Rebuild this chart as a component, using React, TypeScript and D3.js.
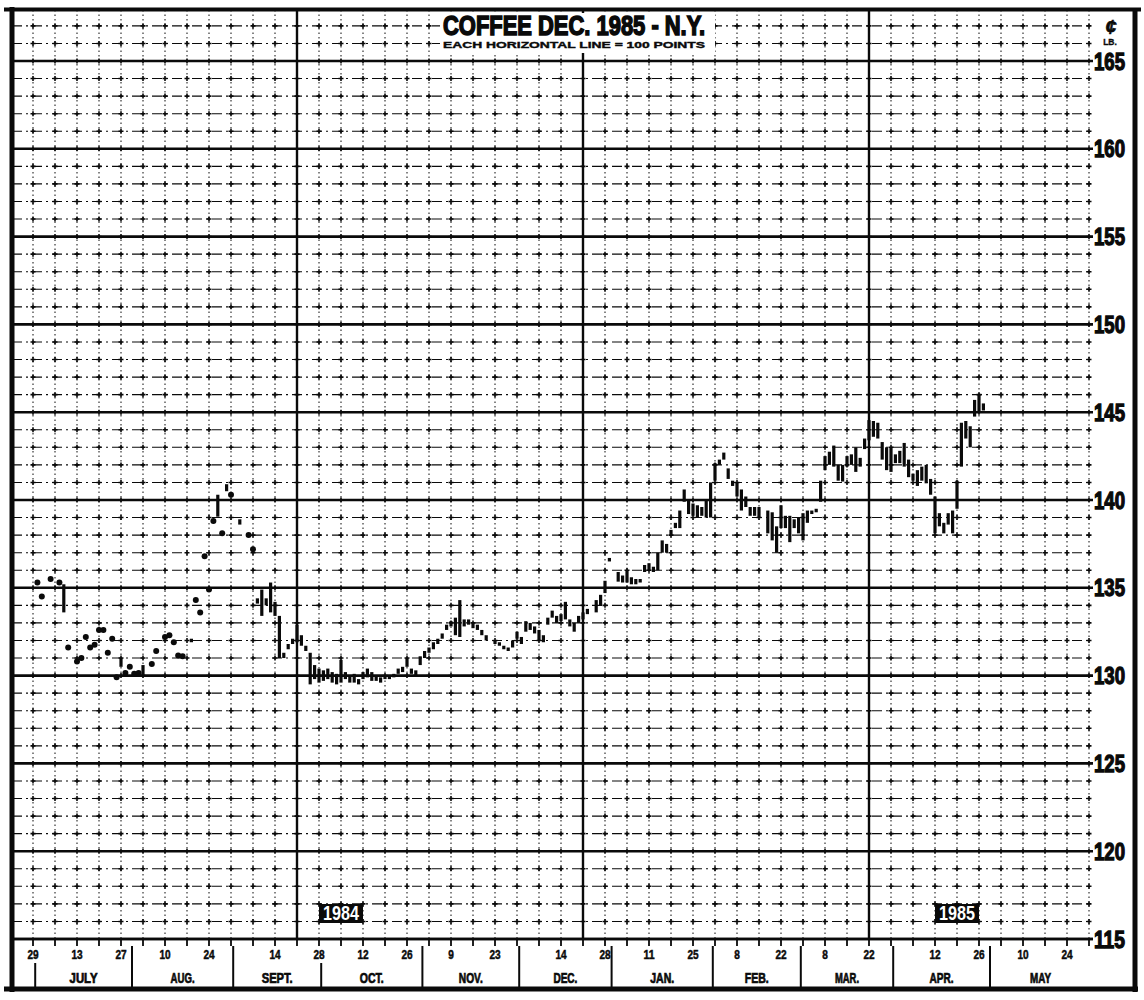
import { useEffect } from 'react';
import * as d3 from 'd3';

// thin early trading: single prints (date, price in cents/lb)
const sparseSessions: [string, number][] = [
  ['1984-07-02', 135.3], ['1984-07-03', 134.5], ['1984-07-05', 135.5], ['1984-07-09', 135.3],
  ['1984-07-11', 131.6], ['1984-07-13', 130.8], ['1984-07-16', 131.0], ['1984-07-17', 132.2],
  ['1984-07-18', 131.6], ['1984-07-19', 131.75], ['1984-07-20', 132.6], ['1984-07-23', 132.6],
  ['1984-07-24', 131.3], ['1984-07-25', 132.1], ['1984-07-26', 129.9], ['1984-07-30', 130.15],
  ['1984-07-31', 130.5], ['1984-08-01', 130.1], ['1984-08-02', 130.15], ['1984-08-07', 130.66],
  ['1984-08-08', 131.4], ['1984-08-10', 132.2], ['1984-08-13', 132.3], ['1984-08-14', 131.9],
  ['1984-08-15', 131.15], ['1984-08-16', 131.1], ['1984-08-21', 134.3], ['1984-08-22', 133.6],
  ['1984-08-23', 136.8], ['1984-08-24', 134.9], ['1984-08-27', 138.8], ['1984-08-29', 138.1],
  ['1984-08-31', 140.3], ['1984-09-06', 138.0], ['1984-09-07', 137.2],
];

// daily high / low
const dailyRanges: [string, number, number][] = [
  ['1984-07-10', 135.2, 133.6], ['1984-07-27', 131.0, 130.5], ['1984-08-03', 130.6, 130.0],
  ['1984-08-20', 132.1, 131.9], ['1984-08-28', 140.3, 139.05], ['1984-08-30', 140.9, 140.5],
  ['1984-09-04', 138.9, 138.6], ['1984-09-10', 134.4, 134.1], ['1984-09-11', 134.9, 133.4],
  ['1984-09-12', 134.4, 134.0], ['1984-09-13', 135.3, 133.6], ['1984-09-14', 134.2, 133.4],
  ['1984-09-17', 133.4, 131.0], ['1984-09-18', 131.3, 131.0], ['1984-09-19', 131.8, 131.5],
  ['1984-09-20', 132.1, 131.8], ['1984-09-21', 132.9, 131.9], ['1984-09-24', 132.3, 131.7],
  ['1984-09-25', 131.7, 131.4], ['1984-09-26', 131.3, 129.5], ['1984-09-27', 130.6, 129.8],
  ['1984-09-28', 130.4, 129.6], ['1984-10-01', 130.3, 129.7], ['1984-10-02', 130.4, 129.8],
  ['1984-10-03', 130.2, 129.6], ['1984-10-04', 130.1, 129.5], ['1984-10-05', 130.9, 129.6],
  ['1984-10-08', 130.2, 129.8], ['1984-10-09', 130.0, 129.6], ['1984-10-10', 130.1, 129.6],
  ['1984-10-11', 129.8, 129.5], ['1984-10-12', 130.2, 129.8], ['1984-10-15', 130.4, 129.9],
  ['1984-10-16', 130.2, 129.7], ['1984-10-17', 130.0, 129.7], ['1984-10-18', 129.9, 129.6],
  ['1984-10-19', 130.0, 129.8], ['1984-10-22', 130.0, 129.8], ['1984-10-23', 130.1, 129.9],
  ['1984-10-24', 130.4, 130.1], ['1984-10-25', 130.5, 130.2], ['1984-10-26', 131.0, 130.5],
  ['1984-10-29', 130.4, 130.1], ['1984-10-30', 130.3, 130.0], ['1984-10-31', 131.1, 130.6],
  ['1984-11-01', 131.4, 131.0], ['1984-11-02', 131.6, 131.3], ['1984-11-05', 131.9, 131.5],
  ['1984-11-06', 132.1, 131.8], ['1984-11-07', 132.4, 132.1], ['1984-11-08', 132.9, 132.6],
  ['1984-11-09', 133.1, 132.8], ['1984-11-12', 133.3, 132.3], ['1984-11-13', 134.3, 132.2],
  ['1984-11-14', 133.2, 132.8], ['1984-11-15', 133.2, 132.9], ['1984-11-16', 133.0, 132.7],
  ['1984-11-19', 132.9, 132.6], ['1984-11-20', 132.6, 132.3], ['1984-11-21', 132.3, 132.0],
  ['1984-11-23', 132.0, 131.8], ['1984-11-26', 131.9, 131.7], ['1984-11-27', 131.7, 131.5],
  ['1984-11-28', 131.6, 131.4], ['1984-11-29', 132.0, 131.6], ['1984-11-30', 132.5, 132.1],
  ['1984-12-03', 132.2, 131.8], ['1984-12-04', 133.1, 132.5], ['1984-12-05', 133.0, 132.6],
  ['1984-12-06', 132.8, 132.4], ['1984-12-07', 132.6, 132.0], ['1984-12-10', 132.3, 131.9],
  ['1984-12-11', 133.3, 132.9], ['1984-12-12', 133.7, 133.3], ['1984-12-13', 133.4, 133.0],
  ['1984-12-14', 133.5, 133.1], ['1984-12-17', 134.2, 133.2], ['1984-12-18', 133.2, 132.8],
  ['1984-12-19', 133.0, 132.5], ['1984-12-20', 133.4, 133.0], ['1984-12-21', 133.6, 133.2],
  ['1984-12-24', 133.8, 133.5], ['1984-12-26', 134.3, 133.6], ['1984-12-27', 134.6, 134.0],
  ['1984-12-28', 135.4, 134.7], ['1984-12-31', 136.7, 136.5], ['1985-01-02', 135.9, 135.35],
  ['1985-01-03', 135.7, 135.3], ['1985-01-04', 136.0, 135.3], ['1985-01-07', 135.6, 135.2],
  ['1985-01-08', 135.5, 135.2], ['1985-01-09', 135.5, 135.3], ['1985-01-10', 136.3, 135.9],
  ['1985-01-11', 136.4, 136.0], ['1985-01-14', 136.2, 135.9], ['1985-01-15', 137.0, 136.0],
  ['1985-01-16', 137.7, 137.0], ['1985-01-17', 137.5, 137.0], ['1985-01-18', 138.3, 138.0],
  ['1985-01-21', 138.7, 138.4], ['1985-01-22', 139.4, 138.4], ['1985-01-23', 140.6, 139.9],
  ['1985-01-24', 140.0, 139.2], ['1985-01-25', 139.8, 139.1], ['1985-01-28', 139.7, 139.0],
  ['1985-01-29', 139.6, 139.1], ['1985-01-30', 140.0, 139.0], ['1985-01-31', 141.0, 139.0],
  ['1985-02-01', 142.1, 141.1], ['1985-02-04', 142.3, 142.0], ['1985-02-05', 142.7, 142.3],
  ['1985-02-06', 141.8, 141.2], ['1985-02-07', 141.1, 140.8], ['1985-02-08', 141.0, 140.2],
  ['1985-02-11', 140.6, 139.4], ['1985-02-12', 140.2, 139.6], ['1985-02-13', 139.6, 139.1],
  ['1985-02-14', 139.6, 139.1], ['1985-02-15', 139.6, 139.0], ['1985-02-19', 139.4, 138.1],
  ['1985-02-20', 139.3, 137.7], ['1985-02-21', 138.5, 137.0], ['1985-02-22', 139.7, 138.4],
  ['1985-02-25', 139.1, 138.4], ['1985-02-26', 139.1, 137.6], ['1985-02-27', 138.9, 138.4],
  ['1985-02-28', 139.0, 138.1], ['1985-03-01', 139.25, 137.7], ['1985-03-04', 139.4, 138.7],
  ['1985-03-05', 139.4, 139.2], ['1985-03-06', 139.5, 139.3], ['1985-03-07', 141.1, 139.9],
  ['1985-03-08', 142.5, 141.7], ['1985-03-11', 142.75, 142.0], ['1985-03-12', 143.1, 141.9],
  ['1985-03-13', 142.0, 141.1], ['1985-03-14', 142.0, 141.05], ['1985-03-15', 142.5, 141.9],
  ['1985-03-18', 142.6, 142.0], ['1985-03-19', 143.0, 141.6], ['1985-03-20', 142.4, 141.9],
  ['1985-03-21', 143.5, 142.9], ['1985-03-22', 144.55, 143.4], ['1985-03-25', 144.5, 143.6],
  ['1985-03-26', 144.4, 143.5], ['1985-03-27', 143.3, 142.3], ['1985-03-28', 143.0, 141.7],
  ['1985-03-29', 143.0, 141.6], ['1985-04-01', 142.6, 142.1], ['1985-04-02', 142.8, 142.1],
  ['1985-04-03', 143.25, 141.9], ['1985-04-04', 142.3, 141.3], ['1985-04-05', 141.5, 141.1],
  ['1985-04-08', 141.7, 140.8], ['1985-04-09', 141.9, 141.1], ['1985-04-10', 142.0, 140.95],
  ['1985-04-11', 141.2, 140.3], ['1985-04-12', 140.2, 138.1], ['1985-04-15', 139.25, 138.5],
  ['1985-04-16', 138.7, 138.1], ['1985-04-17', 139.25, 138.6], ['1985-04-18', 139.4, 138.1],
  ['1985-04-19', 141.1, 139.5], ['1985-04-22', 144.4, 141.9], ['1985-04-23', 144.5, 143.5],
  ['1985-04-24', 144.2, 143.0], ['1985-04-25', 145.7, 144.75], ['1985-04-26', 146.0, 144.95],
  ['1985-04-29', 145.5, 145.1],
];

const tickLabelDates = [
  '1984-06-29', '1984-07-13', '1984-07-27', '1984-08-10', '1984-08-24', '1984-09-14',
  '1984-09-28', '1984-10-12', '1984-10-26', '1984-11-09', '1984-11-23', '1984-12-14',
  '1984-12-28', '1985-01-11', '1985-01-25', '1985-02-08', '1985-02-22', '1985-03-08',
  '1985-03-22', '1985-04-12', '1985-04-26', '1985-05-10', '1985-05-24',
];
const monthNames = ['JULY', 'AUG.', 'SEPT.', 'OCT.', 'NOV.', 'DEC.', 'JAN.', 'FEB.', 'MAR.', 'APR.', 'MAY'];
// last trading day of each month, June 1984 .. May 1985
const monthEnds = [
  '1984-06-29', '1984-07-31', '1984-08-31', '1984-09-28', '1984-10-31', '1984-11-30',
  '1984-12-31', '1985-01-31', '1985-02-28', '1985-03-29', '1985-04-30', '1985-05-31',
];
const quarterLines = ['1984-09-21', '1984-12-21', '1985-03-22'];
const yearTags: [string, string, string][] = [
  ['1984', '1984-09-28', '1984-10-12'],
  ['1985', '1985-04-12', '1985-04-26'],
];
const priceLabels = [115, 120, 125, 130, 135, 140, 145, 150, 155, 160, 165];

const W = 1144;
const H = 1000;
const INK = '#0a0a0a';

const parse = d3.timeParse('%Y-%m-%d');
const base = new Date(1984, 5, 29); // a Friday
// count of trading sessions (weekdays) since 29 June 1984
function session(s: string) {
  const d = parse(s) as Date;
  const days = d3.timeDay.count(base, d);
  const wk = Math.floor(days / 7);
  const r = days - wk * 7;
  return wk * 5 + [0, 0, 0, 1, 2, 3, 4][r];
}

const x = d3.scaleLinear().domain([-5, 240]).range([11, 1089]);
const y = d3.scaleLinear().domain([115, 165]).range([939, 61]);

export default function App() {
  useEffect(() => {
    document.body.style.margin = '0';
  }, []);

  const halfDay = (x(1) - x(0)) / 2;
  const weeks = d3.range(-1, 49).map((k) => x(k * 5));
  const rows = d3.range(115, 168);
  const minorRows = rows.filter((v) => v % 5 !== 0);
  const left = 12;
  const right = x(240);
  const bottom = y(115);
  const top = 10;

  const bounds = monthEnds.map((d) => x(session(d)) + halfDay);
  const labelXs = tickLabelDates.map((d) => x(session(d)));

  const numFont = "'Liberation Sans', Arial, sans-serif";

  return (
    <svg width={W} height={H} viewBox={`0 0 ${W} ${H}`} style={{ display: 'block' }}>
      <rect width={W} height={H} fill="#fff" />

      {/* minor rows */}
      {minorRows.map((v) => (
        <line key={'r' + v} x1={left} x2={right} y1={y(v)} y2={y(v)}
          stroke={INK} strokeWidth={1.1} strokeDasharray="10 4 2 4" />
      ))}
      {/* weekly verticals */}
      {weeks.slice(1).map((wx, i) => (
        <line key={'w' + i} x1={wx} x2={wx} y1={top} y2={bottom}
          stroke={INK} strokeWidth={1} strokeDasharray="1.5 3" />
      ))}
      {/* crosses at intersections */}
      {rows.filter((v) => v > 115).map((v) =>
        weeks.slice(1).map((wx, i) => (
          <path key={`c${v}-${i}`} d={`M${wx - 2.5},${y(v)}h5M${wx},${y(v) - 2.5}v5`}
            stroke={INK} strokeWidth={1.6} />
        ))
      )}
      {/* heavy rows every 5 cents */}
      {priceLabels.map((v) => (
        <line key={'h' + v} x1={left} x2={right + 4} y1={y(v)} y2={y(v)}
          stroke={INK} strokeWidth={2.6} />
      ))}
      {/* quarter verticals */}
      {quarterLines.map((d) => (
        <line key={d} x1={x(session(d))} x2={x(session(d))} y1={top} y2={bottom}
          stroke={INK} strokeWidth={2.4} />
      ))}

      {/* title box */}
      <rect x={440} y={13} width={275} height={40} fill="#fff" />
      <text x={443} y={35} textLength={262} lengthAdjust="spacingAndGlyphs"
        fontFamily={numFont} fontWeight="bold" fontSize={28} fill={INK} stroke={INK} strokeWidth={1.6}>
        COFFEE DEC. 1985 - N.Y.
      </text>
      <text x={443} y={48} textLength={262} lengthAdjust="spacingAndGlyphs"
        fontFamily={numFont} fontWeight="bold" fontSize={9.5} fill={INK} stroke={INK} strokeWidth={0.4}>
        EACH HORIZONTAL LINE = 100 POINTS
      </text>

      {/* price series */}
      {sparseSessions.map(([d, v]) => (
        <circle key={'s' + d} cx={x(session(d))} cy={y(v)} r={3} fill={INK} />
      ))}
      {dailyRanges.map(([d, hi, lo]) => {
        const cx = x(session(d));
        const y1 = y(hi);
        const y2 = Math.max(y(lo), y1 + 3.5);
        return <line key={'b' + d} x1={cx} x2={cx} y1={y1} y2={y2} stroke={INK} strokeWidth={3.2} />;
      })}

      {/* right-hand price labels */}
      {priceLabels.map((v) => (
        <text key={'p' + v} x={1094} y={y(v) + 8.5} textLength={31} lengthAdjust="spacingAndGlyphs"
          fontFamily={numFont} fontWeight="bold" fontSize={23.5} fill={INK} stroke={INK} strokeWidth={1.3}>
          {v}
        </text>
      ))}
      <text x={1111} y={34} textAnchor="middle" fontFamily={numFont} fontWeight="bold"
        fontStyle="italic" fontSize={20} fill={INK} stroke={INK} strokeWidth={0.6}>¢</text>
      <text x={1110} y={45} textAnchor="middle" fontFamily={numFont} fontWeight="bold"
        fontSize={8.5} fill={INK} stroke={INK} strokeWidth={0.3}>LB.</text>

      {/* year tags */}
      {yearTags.map(([label, a, b]) => {
        const x0 = x(session(a));
        const x1 = x(session(b));
        return (
          <g key={label}>
            <rect x={x0} y={904} width={x1 - x0} height={19} fill={INK} />
            <text x={(x0 + x1) / 2} y={920} textAnchor="middle" textLength={x1 - x0 - 8}
              lengthAdjust="spacingAndGlyphs" fontFamily={numFont} fontWeight="bold"
              fontSize={20} fill="#fff">{label}</text>
          </g>
        );
      })}

      {/* date axis */}
      {weeks.slice(1).map((wx, i) => (
        <line key={'t' + i} x1={wx} x2={wx} y1={bottom} y2={bottom + 7} stroke={INK} strokeWidth={1.8} />
      ))}
      {tickLabelDates.map((d, i) => {
        const label = String(+d.slice(8));
        return (
          <text key={'l' + d} x={labelXs[i]} y={959} textAnchor="middle"
            textLength={label.length * 5.6} lengthAdjust="spacingAndGlyphs"
            fontFamily={numFont} fontWeight="bold" fontSize={13.5} fill={INK} stroke={INK} strokeWidth={0.5}>{label}</text>
        );
      })}
      {bounds.slice(0, -1).map((bx, i) => {
        const nearLabel = labelXs.some((lx) => Math.abs(lx - bx) < 5);
        return (
          <line key={'m' + i} x1={bx} x2={bx} y1={nearLabel ? 963 : 946} y2={987}
            stroke={INK} strokeWidth={2} />
        );
      })}
      {monthNames.map((m) => m).map((m, i) => (
        <text key={m} x={(bounds[i] + bounds[i + 1]) / 2} y={983} textAnchor="middle"
          textLength={m.replace('.', '').length * 7 + (m.includes('.') ? 3 : 0)}
          lengthAdjust="spacingAndGlyphs"
          fontFamily={numFont} fontWeight="bold" fontSize={14} fill={INK} stroke={INK} strokeWidth={0.7}>
          {m}
        </text>
      ))}

      {/* frame */}
      <line x1={left} x2={left} y1={7} y2={992} stroke={INK} strokeWidth={5} />
      <line x1={4} x2={1141} y1={9.5} y2={9.5} stroke={INK} strokeWidth={4} />
      <line x1={1135} x2={1135} y1={8} y2={992} stroke={INK} strokeWidth={5} />
      <line x1={4} x2={1138} y1={989} y2={989} stroke={INK} strokeWidth={5} />
      <line x1={left} x2={right + 4} y1={bottom} y2={bottom} stroke={INK} strokeWidth={2.6} />
    </svg>
  );
}
